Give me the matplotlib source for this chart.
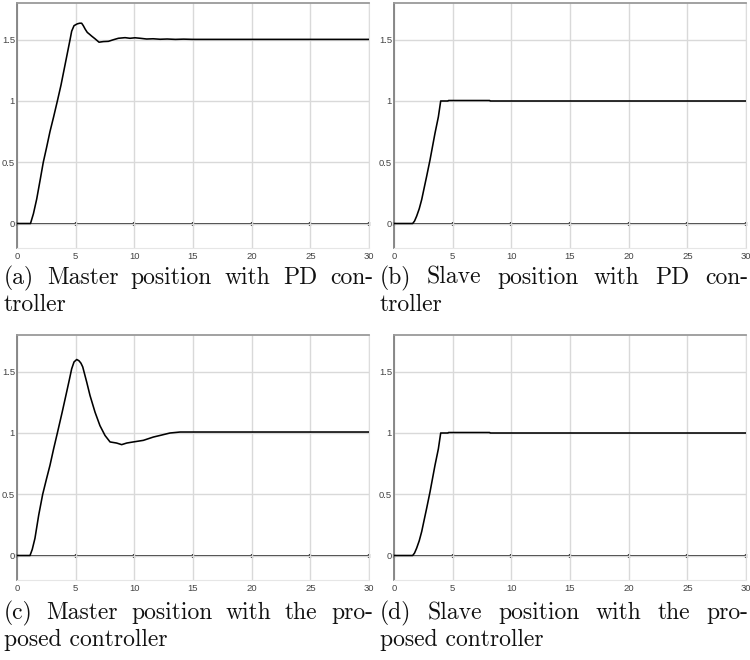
import matplotlib.pyplot as plt

# master position, PD controller
t_master_pd = [0, 1.15, 1.4, 1.68, 2.0, 2.24, 2.52, 2.81, 3.12, 3.44, 3.75, 4.0, 4.25,
               4.52, 4.66, 4.86, 5.14, 5.35, 5.51, 5.65, 5.82, 5.99, 6.18, 6.36, 6.65,
               6.99, 7.36, 7.79, 8.21, 8.64, 9.21, 9.63, 10.06, 10.5, 11.05, 11.6, 12.2,
               12.8, 13.5, 14.2, 15.0, 16.0, 30]
x_master_pd = [0, 0, 0.08, 0.2, 0.37, 0.5, 0.62, 0.75, 0.87, 1.0, 1.13, 1.25, 1.37,
               1.5, 1.57, 1.615, 1.63, 1.635, 1.635, 1.615, 1.585, 1.56, 1.545, 1.53, 1.508,
               1.48, 1.485, 1.487, 1.5, 1.512, 1.517, 1.512, 1.516, 1.512, 1.506, 1.508, 1.504,
               1.506, 1.503, 1.505, 1.503, 1.503, 1.503]

# slave position, PD controller
t_slave_pd = [0, 1.59, 1.75, 1.93, 2.15, 2.36, 2.57, 2.78, 3.07, 3.49, 3.78, 3.98,
              4.6, 4.65, 8.15, 8.2, 30]
x_slave_pd = [0, 0, 0.02, 0.06, 0.12, 0.195, 0.29, 0.384, 0.519, 0.735, 0.87, 1.0,
              1.0, 1.004, 1.004, 1.0, 1.0]

# master position, proposed controller
t_master_prop = [0, 1.11, 1.3, 1.53, 1.85, 2.19, 2.5, 2.81, 3.12, 3.44, 3.85, 4.23,
                 4.45, 4.66, 4.86, 5.09, 5.28, 5.45, 5.6, 5.94, 6.22, 6.65, 7.07, 7.5,
                 7.93, 8.49, 8.92, 9.35, 9.91, 10.77, 11.62, 12.19, 13.04, 13.9, 14.46, 30]
x_master_prop = [0, 0, 0.05, 0.14, 0.33, 0.5, 0.62, 0.736, 0.87, 1.0, 1.17, 1.334,
                 1.43, 1.524, 1.58, 1.6, 1.59, 1.57, 1.54, 1.416, 1.307, 1.17, 1.06, 0.98,
                 0.927, 0.918, 0.905, 0.918, 0.927, 0.94, 0.967, 0.98, 1.0, 1.008, 1.008, 1.008]

# slave position, proposed controller
t_slave_prop = [0, 1.59, 1.75, 1.93, 2.15, 2.36, 2.57, 2.78, 3.07, 3.49, 3.78, 3.98,
                4.6, 4.65, 8.15, 8.2, 30]
x_slave_prop = [0, 0, 0.02, 0.06, 0.12, 0.195, 0.29, 0.384, 0.519, 0.735, 0.87, 1.0,
                1.0, 1.004, 1.004, 1.0, 1.0]

x_ticks = [0, 5, 10, 15, 20, 25, 30]
y_ticks = [0, 0.5, 1, 1.5]
y_ticklabels = ['0', '0.5', '1', '1.5']

captions = [
    ("(a) Master position with PD con-", "troller"),
    ("(b) Slave position with PD con-", "troller"),
    ("(c) Master position with the pro-", "posed controller"),
    ("(d) Slave position with the pro-", "posed controller"),
]

W, H = 750, 660
fig = plt.figure(figsize=(W / 100, H / 100), dpi=100)
fig.patch.set_facecolor('white')


def panel(left_px, top_px, t, x):
    ax = fig.add_axes([left_px / W, 1 - (top_px + 245) / H, 352 / W, 245 / H])
    ax.plot(t, x, color='black', lw=1.15, zorder=3)
    ax.set_xlim(0, 30)
    ax.set_ylim(-0.2, 1.8)
    ax.set_xticks(x_ticks)
    ax.set_yticks(y_ticks)
    ax.set_yticklabels(y_ticklabels)
    ax.grid(True, color='#d9d9d9', lw=1.0)
    ax.set_axisbelow(True)
    for lab in ax.get_xticklabels() + ax.get_yticklabels():
        lab.set_family(['Liberation Sans', 'DejaVu Sans'])
    ax.tick_params(length=0, labelsize=6.8, labelcolor='#444444')
    ax.tick_params(axis='x', pad=3)
    ax.tick_params(axis='y', pad=1.5)
    ax.spines['left'].set_color('#808080')
    ax.spines['left'].set_linewidth(1.3)
    ax.spines['top'].set_color('#9a9a9a')
    ax.spines['top'].set_linewidth(1.3)
    ax.spines['right'].set_color('#dddddd')
    ax.spines['bottom'].set_color('#e6e6e6')
    # zero line with tick dots
    zero = ax.secondary_xaxis(0, transform=ax.transData)
    zero.set_xticks(x_ticks)
    zero.tick_params(direction='inout', length=3, width=1.6, color='#222222',
                     labelbottom=False)
    zero.spines['bottom'].set_color('#222222')
    zero.spines['bottom'].set_linewidth(1.3)
    return ax


panel(17, 3, t_master_pd, x_master_pd)
panel(394, 3, t_slave_pd, x_slave_pd)
panel(17, 335, t_master_prop, x_master_prop)
panel(394, 335, t_slave_prop, x_slave_prop)

renderer = fig.canvas.get_renderer()
cap_font = dict(family='cmr10', size=17, color='#111111', va='baseline', ha='left')


def justify(line, x0, x1, y):
    words = line.split(' ')
    items = [fig.text(0, 1 - y / H, w, **cap_font) for w in words]
    widths = [it.get_window_extent(renderer).width for it in items]
    gap = (x1 - x0 - sum(widths)) / (len(words) - 1)
    pos = x0
    for it, w in zip(items, widths):
        it.set_x(pos / W)
        pos += w + gap


col_x = [(4, 373), (380, 748)]
row_y = [(284, 311), (619, 646)]
for i, (first, second) in enumerate(captions):
    x0, x1 = col_x[i % 2]
    y1, y2 = row_y[i // 2]
    justify(first, x0, x1, y1)
    fig.text(x0 / W, 1 - y2 / H, second, **cap_font)

fig.savefig('out.png', dpi=100)
